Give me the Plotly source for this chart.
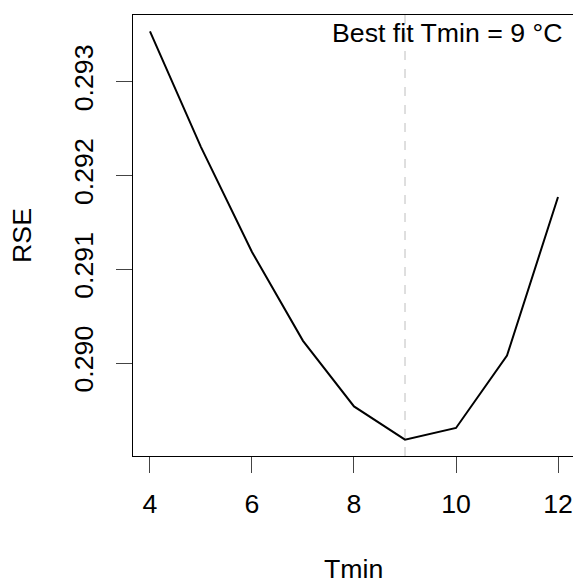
import plotly.graph_objects as go

tmin = [4, 5, 6, 7, 8, 9, 10, 11, 12]
rse = [0.293539, 0.292304, 0.291185, 0.290237, 0.289538, 0.289183, 0.289308, 0.290081, 0.291771]
best_fit = 9
x_ticks = [4, 6, 8, 10, 12]
y_ticks = [0.290, 0.291, 0.292, 0.293]
y_tick_labels = ["0.290", "0.291", "0.292", "0.293"]

FONT = "Liberation Sans, Arial, sans-serif"
FS = 26.7

fig = go.Figure()
fig.add_trace(go.Scatter(x=tmin, y=rse, mode="lines",
                         line=dict(color="black", width=2), showlegend=False,
                         hoverinfo="skip"))

fig.add_shape(type="line", x0=best_fit, x1=best_fit, xref="x", y0=0, y1=1, yref="paper",
              line=dict(color="#bebebe", width=1, dash="dash"))

fig.add_annotation(text="Best fit Tmin = %d °C" % best_fit, xref="paper", yref="paper",
                   x=1, y=1, xanchor="right", yanchor="top", showarrow=False,
                   xshift=-9, yshift=-1, font=dict(family=FONT, size=FS, color="black"))

fig.add_annotation(text="Tmin", xref="paper", yref="paper", x=0.5, y=0,
                   yanchor="top", showarrow=False, yshift=-96,
                   font=dict(family=FONT, size=FS, color="black"))
fig.add_annotation(text="RSE", xref="paper", yref="paper", x=0, y=0.499,
                   xanchor="center", showarrow=False, xshift=-111, textangle=-90,
                   font=dict(family=FONT, size=FS, color="black"))

fig.update_xaxes(range=[3.667, 12.294], tickvals=x_ticks, ticktext=[str(v) for v in x_ticks],
                 ticks="outside", ticklen=16, tickwidth=1, tickcolor="#444",
                 showline=True, linecolor="black", linewidth=1, mirror=True,
                 showgrid=False, zeroline=False, ticklabelstandoff=8,
                 tickfont=dict(family=FONT, size=FS, color="black"))
fig.update_yaxes(range=[0.289009, 0.293713], tickvals=y_ticks, ticktext=y_tick_labels,
                 ticks="outside", ticklen=16, tickwidth=1, tickcolor="#444",
                 showline=True, linecolor="black", linewidth=1, mirror=False,
                 showgrid=False, zeroline=False, tickangle=-90, ticklabelstandoff=12,
                 tickfont=dict(family=FONT, size=FS, color="black"))

fig.update_layout(width=573, height=578, margin=dict(l=133, r=0, t=15, b=122),
                  plot_bgcolor="white", paper_bgcolor="white")

fig.write_html("out.html", config={"displayModeBar": False},
               post_script="document.body.style.margin='0';document.body.style.overflow='hidden';")
